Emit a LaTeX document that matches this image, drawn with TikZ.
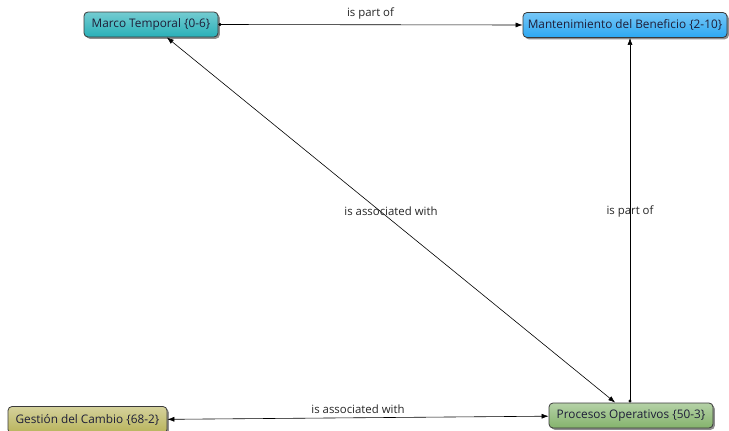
\documentclass[tikz,border=0pt]{standalone}
\usepackage{fontspec}
\setmainfont{Open Sans}
\usetikzlibrary{arrows.meta,shadows}
\definecolor{inkc}{HTML}{1E1E38}
\definecolor{edgec}{HTML}{3A3A3A}
\tikzset{
  concept/.style={draw=edgec, line width=0.8pt, rounded corners=4pt,
    minimum height=25pt, inner xsep=3pt, inner ysep=0pt,
    font=\fontsize{11.8}{13}\selectfont, text=inkc,
    drop shadow={shadow xshift=1.8pt, shadow yshift=-1.8pt, fill=black!55, opacity=0.8}},
  link/.style={draw=black, line width=0.6pt},
  tip/.style={Latex[length=7pt,width=5pt]},
  lbl/.style={font=\fontsize{11.4}{13}\selectfont, text=black!85, inner sep=0pt},
}
\begin{document}
\begin{tikzpicture}[x=1pt,y=-1pt]
\useasboundingbox (0,0) rectangle (729,431);
\definecolor{marcoc}{HTML}{29B0B8}
\definecolor{mantc}{HTML}{2CA8F2}
\definecolor{gestc}{HTML}{B8B35A}
\definecolor{procc}{HTML}{84B36C}
\node[concept, top color=marcoc!65!white, bottom color=marcoc, minimum width=134pt] (marco) at (151,24.5) {Marco Temporal \{0-6\}};
\node[concept, top color=mantc!65!white, bottom color=mantc, minimum width=204pt] (mant) at (625,25) {Mantenimiento del Beneficio \{2-10\}};
\node[concept, top color=gestc!60!white, bottom color=gestc, minimum width=159pt, minimum height=27pt] (gest) at (87.5,420) {Gestión del Cambio \{68-2\}};
\node[concept, top color=procc!60!white, bottom color=procc, minimum width=164pt] (proc) at (631,415.5) {Procesos Operativos \{50-3\}};

% is part of: Marco Temporal -> Mantenimiento
\draw[link, {Circle[length=3pt]}-{Latex[length=7pt,width=5pt]}] (marco.east) -- (mant.west)
  node[lbl, midway, yshift=11pt] {is part of};
% is associated with: Marco Temporal <-> Procesos Operativos
\draw[link, {Latex[length=7pt,width=5pt]}-{Latex[length=7pt,width=5pt]}] (marco) -- (proc)
  node[lbl, pos=0.5, yshift=9pt] {is associated with};
% is part of: Procesos Operativos -> Mantenimiento
\coordinate (pt) at ([xshift=-1pt]proc.north);
\draw[link, {Circle[length=3pt]}-{Latex[length=7pt,width=5pt]}] (pt) -- (pt |- mant.south)
  node[lbl, pos=0.5, yshift=9pt] {is part of};
% is associated with: Procesos Operativos <-> Gestión del Cambio
\draw[link, {Latex[length=7pt,width=5pt]}-{Latex[length=7pt,width=5pt]}] (gest) -- (proc)
  node[lbl, pos=0.5, yshift=9pt] {is associated with};
\end{tikzpicture}
\end{document}
